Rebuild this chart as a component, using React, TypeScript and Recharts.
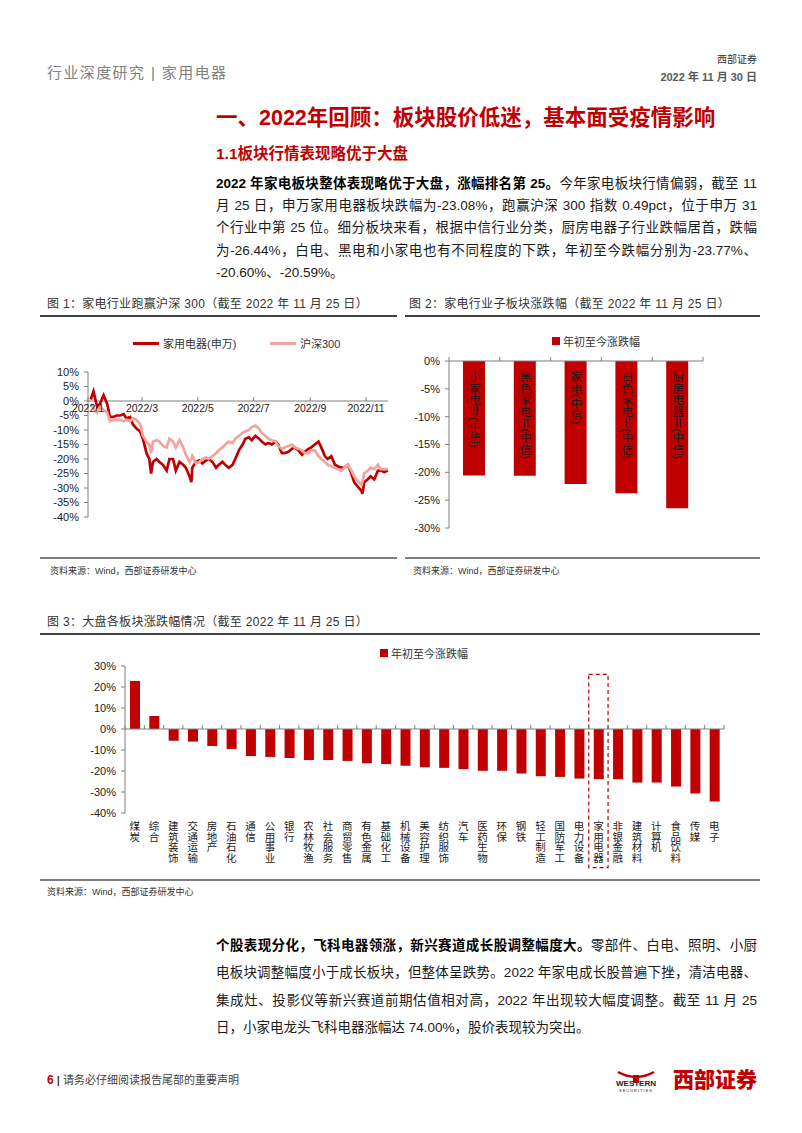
import React from "react";
import {
  LineChart, Line, BarChart, Bar, XAxis, YAxis, ReferenceLine, ReferenceArea, LabelList,
} from "recharts";

const RED = "#C00000";
const PINK = "#F3A29E";
const AXIS = "#7F7F7F";
const INK = "#1A1A1A";
const CHART_FONT = "'Liberation Sans', Arial, 'Noto Sans CJK SC', sans-serif";
const TEXT_FONT = "'Liberation Sans', Arial, 'Noto Sans CJK SC', sans-serif";

// 图1：家电行业跑赢沪深300（%）
const tradeDates = [
  "2022-01-04", "2022-01-07", "2022-01-11", "2022-01-14", "2022-01-18", "2022-01-22", "2022-01-25", "2022-01-29",
  "2022-02-01", "2022-02-05", "2022-02-09", "2022-02-12", "2022-02-16", "2022-02-19", "2022-02-23", "2022-02-27",
  "2022-03-02", "2022-03-06", "2022-03-09", "2022-03-11", "2022-03-13", "2022-03-17", "2022-03-20", "2022-03-24",
  "2022-03-28", "2022-03-31", "2022-04-04", "2022-04-07", "2022-04-11", "2022-04-15", "2022-04-18", "2022-04-22",
  "2022-04-24", "2022-04-25", "2022-04-29", "2022-05-03", "2022-05-06", "2022-05-10", "2022-05-13", "2022-05-17",
  "2022-05-21", "2022-05-24", "2022-05-28", "2022-05-31", "2022-06-04", "2022-06-08", "2022-06-11", "2022-06-15",
  "2022-06-19", "2022-06-22", "2022-06-26", "2022-06-29", "2022-07-03", "2022-07-07", "2022-07-10", "2022-07-14",
  "2022-07-17", "2022-07-21", "2022-07-25", "2022-07-28", "2022-08-01", "2022-08-04", "2022-08-08", "2022-08-12",
  "2022-08-15", "2022-08-19", "2022-08-23", "2022-08-26", "2022-08-30", "2022-09-02", "2022-09-06", "2022-09-10",
  "2022-09-13", "2022-09-17", "2022-09-20", "2022-09-24", "2022-09-28", "2022-10-01", "2022-10-05", "2022-10-08",
  "2022-10-12", "2022-10-16", "2022-10-19", "2022-10-23", "2022-10-27", "2022-10-28", "2022-10-30", "2022-11-03",
  "2022-11-06", "2022-11-10", "2022-11-14", "2022-11-17", "2022-11-21", "2022-11-25",
];
const swAppliance = [
  0.5, 3.3, -2, -1, 2, -1, -5.5, -5.5,
  -5, -5, -4.5, -6, -5.5, -8, -9.5, -10.5,
  -13, -18, -20, -25, -21, -20, -21, -22,
  -24, -20, -20, -24, -21, -22, -23, -26,
  -28, -23, -21, -20.5, -21.5, -20.5, -20, -21,
  -23, -22, -21, -22, -23, -22, -20, -17,
  -15, -13, -12.5, -13.5, -12, -13, -14, -15,
  -14.5, -15, -14, -15, -18, -18, -17.5, -16.5,
  -16, -17, -18.5, -17.5, -16.5, -16, -15, -14,
  -16, -19, -20, -19, -22, -22.5, -23, -23,
  -22, -25, -28, -29.5, -31, -32, -28, -27,
  -26, -27, -24, -24, -24.5, -24,
];
const csi300 = [
  -1, -2.5, -4, -2, -3, -4, -7, -6.5,
  -6.5, -6.5, -7, -6.5, -7, -6, -6.5, -8,
  -12, -14, -15, -18, -14, -13.5, -14, -15.5,
  -16, -13, -14, -16, -13.5, -16, -18.5, -21,
  -20, -19, -21.5, -21, -20, -19.5, -20, -19,
  -18, -17, -16, -15, -14, -14.5, -13, -12,
  -11, -10.5, -10, -9, -8.5, -9.5, -11, -12,
  -13, -13.5, -14, -15.5, -16.5, -16, -15.5, -15,
  -16, -16.5, -17, -18, -18, -17, -17, -19,
  -20, -21, -22, -22.5, -23, -23.5, -24, -23,
  -22, -24, -26, -27.5, -29, -28, -25, -24,
  -23, -23.5, -22, -23.5, -23.5, -23.5,
];
const monthTicks = ["2022-01-01", "2022-03-01", "2022-05-01", "2022-07-01", "2022-09-01", "2022-11-01"];
const dateRange = ["2022-01-01", "2022-11-25"];
const pctTicks1 = [10, 5, 0, -5, -10, -15, -20, -25, -30, -35, -40];
const lineSeries = [
  { key: "sw", name: "家用电器(申万)", color: RED },
  { key: "hs", name: "沪深300", color: PINK },
];

// 图2：家电行业子板块涨跌幅（%）
const subSectors = ["小家电Ⅱ(中信)", "黑色家电Ⅱ(中信)", "家电(中信)", "白色家电Ⅱ(中信)", "厨房电器Ⅱ(中信)"];
const subSectorChange = [-20.59, -20.6, -22.1, -23.77, -26.44];
const pctTicks2 = [0, -5, -10, -15, -20, -25, -30];

// 图3：大盘各板块涨跌幅（%）
const industries = [
  "煤炭", "综合", "建筑装饰", "交通运输", "房地产", "石油石化", "通信", "公用事业", "银行", "农林牧渔",
  "社会服务", "商贸零售", "有色金属", "基础化工", "机械设备", "美容护理", "纺织服饰", "汽车", "医药生物", "环保",
  "钢铁", "轻工制造", "国防军工", "电力设备", "家用电器", "非银金融", "建筑材料", "计算机", "食品饮料", "传媒", "电子",
];
const industryChange = [
  22.9, 6.2, -5.6, -6.0, -8.1, -9.5, -12.9, -13.3, -13.8, -14.8,
  -14.8, -15.2, -16.3, -16.7, -17.5, -18.2, -18.5, -19.1, -19.9, -19.9,
  -21.2, -22.5, -22.8, -23.6, -23.9, -23.9, -25.5, -25.5, -27.4, -30.7, -34.5,
];
const pctTicks3 = [30, 20, 10, 0, -10, -20, -30, -40];
const highlighted = "家用电器";
const highlightSpan = [-66, 26];
const legendName = "年初至今涨跌幅";

const pct = (v: number) => `${v}%`;
const monthLabel = (t: number) => {
  const d = new Date(t);
  return `${d.getUTCFullYear()}/${d.getUTCMonth() + 1}`;
};

// chart 1 geometry
const C1 = { w: 357, h: 200, top: 42, right: 9, yw: 48, xh: 13 };
const plotH1 = C1.h - C1.top - C1.xh;
const lo1 = pctTicks1[pctTicks1.length - 1];
const hi1 = pctTicks1[0];
const zero1 = (plotH1 * (0 - lo1)) / (hi1 - lo1);

// chart 2 geometry
const C2 = { w: 355, h: 215, top: 35, right: 57, bottom: 12, yw: 44, xh: 1 };
const band2 = (C2.w - C2.yw - C2.right) / subSectors.length;

// chart 3 geometry
const C3 = { w: 720, h: 235, top: 26, right: 36, bottom: 2, yw: 85, xh: 60 };
const plotH3 = C3.h - C3.top - C3.bottom - C3.xh;
const lo3 = pctTicks3[pctTicks3.length - 1];
const hi3 = pctTicks3[0];
const zero3 = (plotH3 * (0 - lo3)) / (hi3 - lo3);
const band3 = (C3.w - C3.yw - C3.right) / industries.length;

const lineData = tradeDates.map((d, i) => ({ t: Date.parse(d), sw: swAppliance[i], hs: csi300[i] }));
const subData = subSectors.map((name, i) => ({ name, v: subSectorChange[i] }));
const indData = industries.map((name, i) => ({ name, v: industryChange[i] }));

const MonthTick = (p: any) => {
  const zy = p.y - zero1;
  return (
    <g>
      <line x1={p.x} x2={p.x} y1={zy} y2={zy - 4} stroke={AXIS} />
      <text x={p.x} y={zy + 4} dy="0.71em" textAnchor="middle" fontSize={10.5} fill={INK}>
        {monthLabel(p.payload.value)}
      </text>
    </g>
  );
};

const BoundaryTick = (p: any) => {
  const last = p.index === subSectors.length - 1;
  return (
    <g>
      <line x1={p.x - band2 / 2} x2={p.x - band2 / 2} y1={p.y} y2={p.y - 4} stroke={AXIS} />
      {last && <line x1={p.x + band2 / 2} x2={p.x + band2 / 2} y1={p.y} y2={p.y - 4} stroke={AXIS} />}
    </g>
  );
};

const InBarLabel = (p: any) => {
  const top = Math.min(p.y, p.y + p.height);
  return (
    <text x={p.x + p.width / 2} y={top + 10} fontSize={11.5} fill={INK} style={{ writingMode: "vertical-rl" }}>
      {p.value}
    </text>
  );
};

const IndustryTick = (p: any) => {
  const zy = p.y - zero3;
  const last = p.index === industries.length - 1;
  const chars = Array.from(String(p.payload.value));
  const fs = 10.5;
  return (
    <g>
      <line x1={p.x - band3 / 2} x2={p.x - band3 / 2} y1={zy} y2={zy - 4} stroke={AXIS} />
      {last && <line x1={p.x + band3 / 2} x2={p.x + band3 / 2} y1={zy} y2={zy - 4} stroke={AXIS} />}
      <text textAnchor="middle" fontSize={fs} fill={INK}>
        {chars.map((c, i) => (
          <tspan key={i} x={p.x} y={p.y + 8 + fs * (i + 0.88)}>{c}</tspan>
        ))}
      </text>
    </g>
  );
};

const Txt = ({ left, right, cy, size, color = INK, weight = 400, family = TEXT_FONT, spacing = 0, children }: any) => (
  <div
    style={{
      position: "absolute", left, right, top: cy - size, height: size * 2, lineHeight: `${size * 2}px`,
      fontSize: size, color, fontWeight: weight, fontFamily: family, letterSpacing: spacing, whiteSpace: "nowrap",
    }}
  >
    {children}
  </div>
);

const JLine = ({ cy, last, children }: any) => (
  <div
    style={{
      position: "absolute", left: 216, width: 541, top: cy - 11, height: 22, lineHeight: "22px", fontSize: 13.5,
      fontFamily: TEXT_FONT, color: INK, textAlign: "justify", textAlignLast: last ? "left" : "justify",
    }}
  >
    {children}
  </div>
);

const Rule = ({ x, y, w, t = 1, color = "#404040" }: any) => (
  <div style={{ position: "absolute", left: x, top: y, width: w, height: t, background: color }} />
);

const FigTitle = ({ x, cy, children }: any) => (
  <Txt left={x} cy={cy} size={12} color="#333" spacing={0.3}>{children}</Txt>
);

const Source = ({ x, cy }: any) => (
  <Txt left={x} cy={cy} size={9} color="#333">资料来源：Wind，西部证券研发中心</Txt>
);

const SquareLegend = ({ x, cy }: any) => (
  <div style={{ position: "absolute", left: x, top: cy - 8, height: 16, display: "flex", alignItems: "center", fontSize: 11, color: "#333" }}>
    <span style={{ width: 8, height: 8, background: RED, marginRight: 3 }} />
    <span>{legendName}</span>
  </div>
);

const para1 = [
  <><b style={{ color: "#000" }}>2022 年家电板块整体表现略优于大盘，涨幅排名第 25。</b>今年家电板块行情偏弱，截至 11</>,
  <>月 25 日，申万家用电器板块跌幅为-23.08%，跑赢沪深 300 指数 0.49pct，位于申万 31</>,
  <>个行业中第 25 位。细分板块来看，根据中信行业分类，厨房电器子行业跌幅居首，跌幅</>,
  <>为-26.44%，白电、黑电和小家电也有不同程度的下跌，年初至今跌幅分别为-23.77%、</>,
  <>-20.60%、-20.59%。</>,
];

const para2 = [
  <><b style={{ color: "#000" }}>个股表现分化，飞科电器领涨，新兴赛道成长股调整幅度大。</b>零部件、白电、照明、小厨</>,
  <>电板块调整幅度小于成长板块，但整体呈跌势。2022 年家电成长股普遍下挫，清洁电器、</>,
  <>集成灶、投影仪等新兴赛道前期估值相对高，2022 年出现较大幅度调整。截至 11 月 25</>,
  <>日，小家电龙头飞科电器涨幅达 74.00%，股价表现较为突出。</>,
];

export default function App() {
  return (
    <div style={{ position: "absolute", left: 0, top: 0, width: 802, height: 1133, background: "#fff", fontFamily: TEXT_FONT, overflow: "hidden" }}>
      {/* header */}
      <Txt left={47} cy={73} size={15} color="#808080" spacing={1.4}>行业深度研究 | 家用电器</Txt>
      <Txt right={45} cy={60} size={10} color="#333">西部证券</Txt>
      <Txt right={45} cy={77} size={11} color="#595959" weight={700}>2022 年 11 月 30 日</Txt>

      <Txt left={216} cy={118} size={21.5} color={RED} weight={700}>一、2022年回顾：板块股价低迷，基本面受疫情影响</Txt>
      <Txt left={216} cy={153} size={15.5} color={RED} weight={700}>1.1板块行情表现略优于大盘</Txt>

      {para1.map((c, i) => (
        <JLine key={i} cy={184 + i * 22.2} last={i === para1.length - 1}>{c}</JLine>
      ))}

      {/* figure 1 */}
      <FigTitle x={47} cy={304}>图 1：家电行业跑赢沪深 300（截至 2022 年 11 月 25 日）</FigTitle>
      <Rule x={40} y={315} w={357} t={2} />
      <div style={{ position: "absolute", left: 40, top: 330, width: C1.w, height: C1.h, fontFamily: CHART_FONT }}>
        <LineChart width={C1.w} height={C1.h} data={lineData} margin={{ top: C1.top, right: C1.right, bottom: 0, left: 0 }}>
          <XAxis
            dataKey="t" type="number" domain={dateRange.map((d) => Date.parse(d))}
            ticks={monthTicks.map((d) => Date.parse(d))} interval={0} height={C1.xh}
            axisLine={false} tickLine={false} tickSize={0} tickMargin={0}
            tick={(p: any) => <MonthTick {...p} />}
          />
          <YAxis
            domain={[lo1, hi1]} ticks={pctTicks1} interval={0} width={C1.yw} stroke={AXIS}
            tickSize={4} tickMargin={5} tick={{ fontSize: 11, fill: INK }} tickFormatter={pct}
          />
          <ReferenceLine y={0} stroke={AXIS} />
          {lineSeries.map((s) => (
            <Line key={s.key} dataKey={s.key} name={s.name} stroke={s.color} strokeWidth={2.7} dot={false} isAnimationActive={false} />
          ))}
        </LineChart>
        {lineSeries.map((s, i) => (
          <div key={s.key} style={{ position: "absolute", left: i === 0 ? 93 : 230, top: 5, height: 16, display: "flex", alignItems: "center", fontSize: 11, color: "#333" }}>
            <span style={{ width: 26, height: 3, background: s.color, marginRight: 4 }} />
            <span>{s.name}</span>
          </div>
        ))}
      </div>
      <Rule x={40} y={557} w={357} t={1.5} color={AXIS} />
      <Source x={50} cy={571} />

      {/* figure 2 */}
      <FigTitle x={409} cy={304}>图 2：家电行业子板块涨跌幅（截至 2022 年 11 月 25 日）</FigTitle>
      <Rule x={405} y={315} w={355} t={2} />
      <div style={{ position: "absolute", left: 405, top: 325, width: C2.w, height: C2.h, fontFamily: CHART_FONT }}>
        <BarChart width={C2.w} height={C2.h} data={subData} margin={{ top: C2.top, right: C2.right, bottom: C2.bottom, left: 0 }}>
          <XAxis
            dataKey="name" orientation="top" height={C2.xh} interval={0} stroke={AXIS}
            tickLine={false} tickSize={0} tickMargin={0} tick={(p: any) => <BoundaryTick {...p} />}
          />
          <YAxis
            domain={[-30, 0]} ticks={pctTicks2} interval={0} width={C2.yw} stroke={AXIS}
            tickSize={4} tickMargin={5} tick={{ fontSize: 11, fill: INK }} tickFormatter={pct}
          />
          <Bar dataKey="v" fill={RED} barSize={22} isAnimationActive={false}>
            <LabelList dataKey="name" content={(p: any) => <InBarLabel {...p} />} />
          </Bar>
        </BarChart>
        <SquareLegend x={147} cy={16} />
      </div>
      <Rule x={405} y={557} w={355} t={1.5} color={AXIS} />
      <Source x={413} cy={571} />

      {/* figure 3 */}
      <FigTitle x={47} cy={622}>图 3：大盘各板块涨跌幅情况（截至 2022 年 11 月 25 日）</FigTitle>
      <Rule x={40} y={633} w={720} t={2} />
      <div style={{ position: "absolute", left: 40, top: 640, width: C3.w, height: C3.h, fontFamily: CHART_FONT }}>
        <BarChart width={C3.w} height={C3.h} data={indData} margin={{ top: C3.top, right: C3.right, bottom: C3.bottom, left: 0 }}>
          <XAxis
            dataKey="name" height={C3.xh} interval={0} axisLine={false} tickLine={false}
            tickSize={0} tickMargin={0} tick={(p: any) => <IndustryTick {...p} />}
          />
          <YAxis
            domain={[lo3, hi3]} ticks={pctTicks3} interval={0} width={C3.yw} stroke={AXIS}
            tickSize={4} tickMargin={5} tick={{ fontSize: 11, fill: INK }} tickFormatter={pct}
          />
          <ReferenceLine y={0} stroke={AXIS} />
          <Bar dataKey="v" fill={RED} barSize={10} isAnimationActive={false} />
          <ReferenceArea
            x1={highlighted} x2={highlighted} y1={highlightSpan[0]} y2={highlightSpan[1]}
            fill="none" fillOpacity={0} stroke={RED} strokeDasharray="4 3" strokeWidth={1.2} ifOverflow="visible"
          />
        </BarChart>
        <SquareLegend x={340} cy={13} />
      </div>
      <Rule x={40} y={879} w={720} t={1.5} color={AXIS} />
      <Source x={47} cy={892} />

      {para2.map((c, i) => (
        <JLine key={i} cy={946 + i * 27.3} last={i === para2.length - 1}>{c}</JLine>
      ))}

      {/* footer */}
      <div style={{ position: "absolute", left: 47, top: 1072, height: 16, lineHeight: "16px", fontSize: 11, color: "#404040", whiteSpace: "nowrap" }}>
        <b style={{ color: RED, fontSize: 12 }}>6</b> <b>|</b> 请务必仔细阅读报告尾部的重要声明
      </div>
      <svg style={{ position: "absolute", left: 608, top: 1066 }} width={56} height={28}>
        <path d="M10 6 Q28 16 46 6" stroke={RED} strokeWidth={2.5} fill="none" />
        <rect x={25} y={9} width={6} height={8} fill={RED} />
        <text x={28} y={20} textAnchor="middle" fontSize={8} fontWeight={700} fill="#222" fontFamily={CHART_FONT}>WESTERN</text>
        <text x={28} y={26} textAnchor="middle" fontSize={4} fill="#222" fontFamily={CHART_FONT} letterSpacing={1}>SECURITIES</text>
      </svg>
      <Txt right={45} cy={1080} size={21} color={RED} weight={900}>西部证券</Txt>
    </div>
  );
}
